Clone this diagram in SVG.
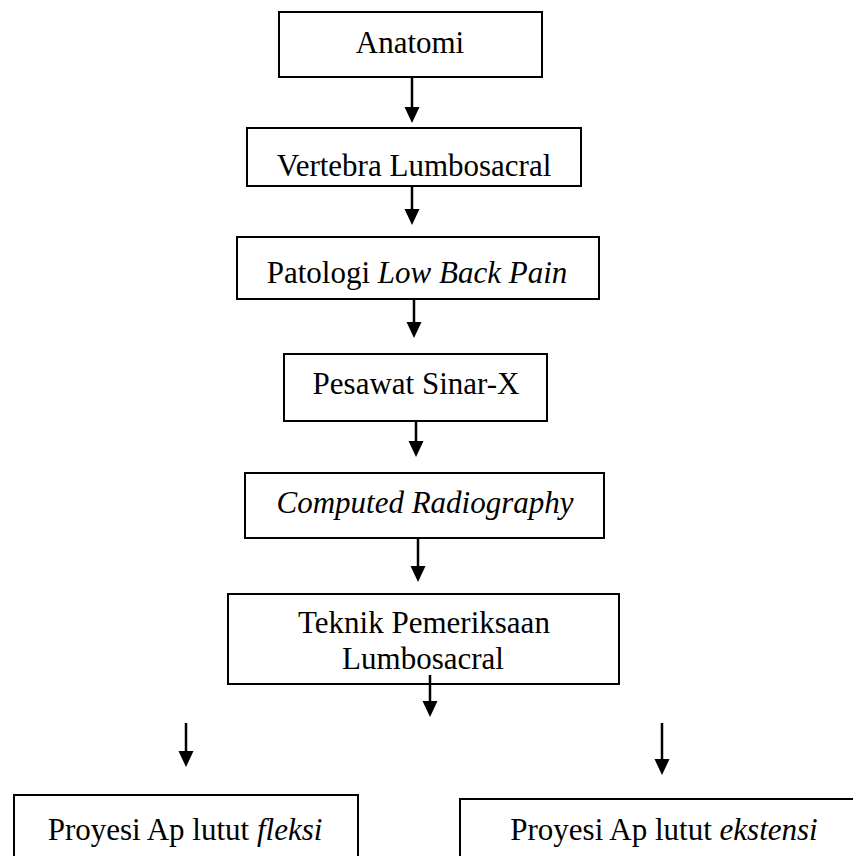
<svg xmlns="http://www.w3.org/2000/svg" width="853" height="856" viewBox="0 0 853 856">
<defs>
<style>
.box{fill:#fff;stroke:#000;stroke-width:2}
.t{font-family:"Liberation Serif","Times New Roman",serif;font-size:31px;fill:#000;text-anchor:middle}
.i{font-style:italic}
.c{stroke:#000;stroke-width:2.5;fill:none}
</style>
<marker id="ah" viewBox="0 0 16 16" refX="0" refY="8" markerWidth="16" markerHeight="16" markerUnits="userSpaceOnUse" orient="auto">
<path d="M0,0.5 L16,8 L0,15.5 Z" fill="#000"/>
</marker>
</defs>
<rect width="853" height="856" fill="#fff"/>
<g id="n1"><rect class="box" x="279" y="12" width="263" height="65"/><text class="t" x="410" y="53">Anatomi</text></g>
<g id="n2"><rect class="box" x="247" y="128" width="334" height="58"/><text class="t" x="414" y="176">Vertebra Lumbosacral</text></g>
<g id="n3"><rect class="box" x="237" y="237" width="362" height="62"/><text class="t" x="417" y="283">Patologi <tspan class="i">Low Back Pain</tspan></text></g>
<g id="n4"><rect class="box" x="284" y="354" width="263" height="67"/><text class="t" x="416" y="394">Pesawat Sinar-X</text></g>
<g id="n5"><rect class="box" x="245" y="473" width="359" height="65"/><text class="t i" x="425" y="513">Computed Radiography</text></g>
<g id="n6"><rect class="box" x="228" y="594" width="391" height="90"/><text class="t" x="424" y="633">Teknik Pemeriksaan</text><text class="t" x="423" y="669">Lumbosacral</text></g>
<g id="n7"><rect class="box" x="14" y="795" width="344" height="80"/><text class="t" x="185" y="840">Proyesi Ap lutut <tspan class="i">fleksi</tspan></text></g>
<g id="n8"><rect class="box" x="460" y="799" width="410" height="80"/><text class="t" x="664" y="840">Proyesi Ap lutut <tspan class="i">ekstensi</tspan></text></g>
<g id="connectors">
<line class="c" x1="412" y1="77" x2="412" y2="107" marker-end="url(#ah)"/>
<line class="c" x1="412" y1="186" x2="412" y2="209" marker-end="url(#ah)"/>
<line class="c" x1="414" y1="299" x2="414" y2="322" marker-end="url(#ah)"/>
<line class="c" x1="416" y1="421" x2="416" y2="441" marker-end="url(#ah)"/>
<line class="c" x1="418" y1="538" x2="418" y2="566" marker-end="url(#ah)"/>
<line class="c" x1="430" y1="675" x2="430" y2="701" marker-end="url(#ah)"/>
<line class="c" x1="186" y1="723" x2="186" y2="751" marker-end="url(#ah)"/>
<line class="c" x1="662" y1="723" x2="662" y2="759" marker-end="url(#ah)"/>
</g>
</svg>
